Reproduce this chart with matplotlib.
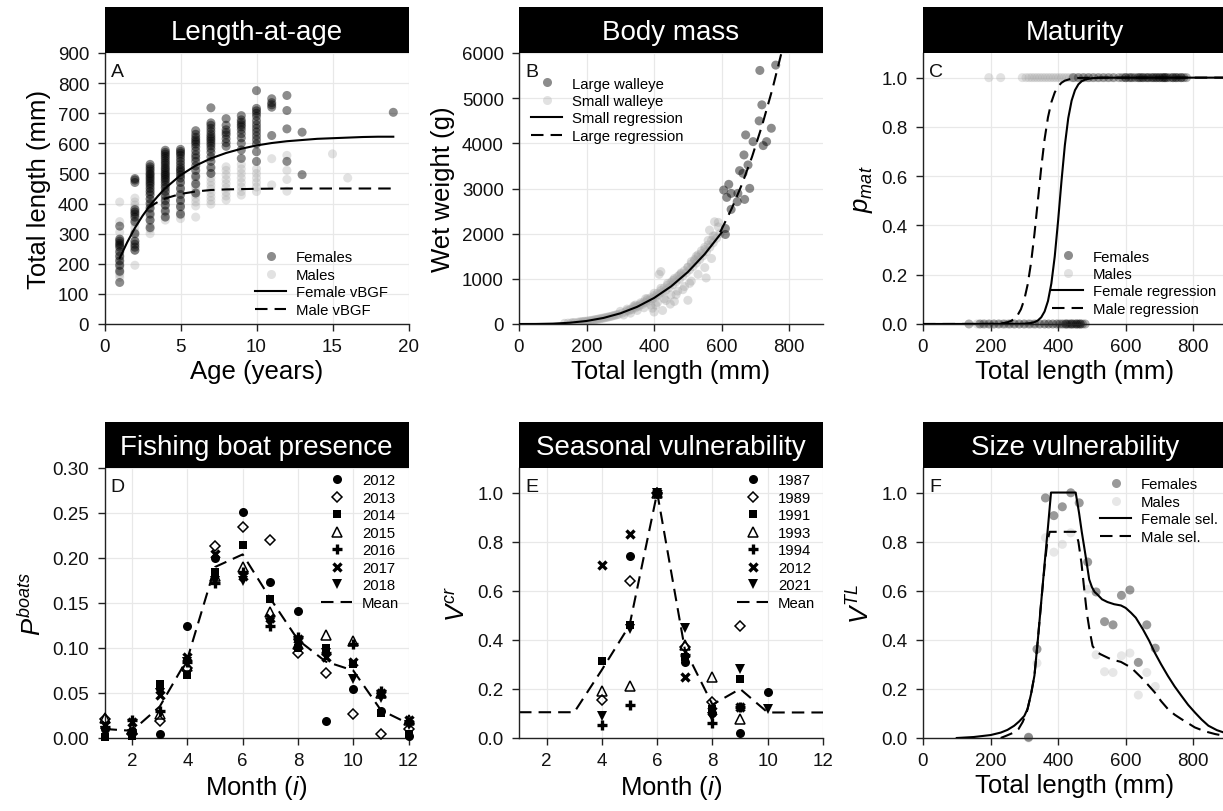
import numpy as np
import matplotlib
matplotlib.use('Agg')
import matplotlib.pyplot as plt
from matplotlib.patches import Rectangle
from matplotlib.lines import Line2D

plt.rcParams['font.family'] = ['Liberation Sans', 'DejaVu Sans']
plt.rcParams['mathtext.fontset'] = 'custom'
plt.rcParams['mathtext.it'] = 'Liberation Sans:italic'
plt.rcParams['mathtext.rm'] = 'Liberation Sans'
plt.rcParams['mathtext.sf'] = 'Liberation Sans'

# ---------------- DATA ----------------
# Panel A: length-at-age
a_fem_ages = [1, 2, 3, 4, 5, 6, 7, 8, 9, 10, 11, 12, 13, 19]
a_fem_len = [
    [138, 175, 195, 210, 225, 240, 255, 262, 268, 275, 282, 325],
    [245, 255, 265, 275, 300, 340, 355, 365, 372, 380, 470, 478, 483],
    [320, 345, 365, 385, 400, 415, 430, 440, 450, 460, 468, 475, 482, 488, 495, 500, 508, 515, 522, 530],
    [355, 375, 395, 410, 425, 440, 452, 462, 472, 480, 487, 494, 500, 507, 514, 520, 528, 535, 542, 550, 557, 564, 570, 577],
    [365, 390, 410, 430, 450, 470, 485, 495, 505, 512, 520, 530, 540, 550, 560, 567, 573, 580],
    [435, 465, 490, 510, 525, 540, 552, 562, 575, 588, 598, 605, 612, 620, 630, 642],
    [500, 520, 540, 555, 570, 582, 592, 600, 608, 615, 622, 630, 640, 650, 660, 668, 718],
    [590, 602, 615, 628, 636, 645, 660, 682],
    [550, 578, 600, 618, 632, 645, 655, 662, 670, 678, 692],
    [540, 572, 598, 612, 625, 638, 650, 662, 675, 690, 700, 708, 716, 775],
    [626, 720, 728, 735, 748],
    [540, 648, 709, 759],
    [496, 637],
    [703],
]
a_male_ages = [1, 2, 3, 4, 5, 6, 7, 8, 9, 10, 11, 12, 15, 16]
a_male_len = [
    [155, 165, 172, 180, 188, 195, 202, 210, 218, 225, 232, 240, 250, 262, 280, 305, 340, 405],
    [195, 245, 260, 275, 290, 305, 320, 335, 348, 360, 372, 385, 395, 405, 418],
    [300, 315, 330, 345, 358, 370, 382, 394, 405, 416, 428, 440, 452, 465],
    [345, 358, 370, 382, 394, 406, 418, 430, 442, 455, 468, 482, 495],
    [350, 362, 375, 388, 400, 412, 424, 436, 448, 460, 472, 485, 498, 512],
    [355, 392, 405, 418, 430, 442, 455, 468, 480, 495],
    [398, 410, 422, 435, 448, 460, 472, 485, 500, 512],
    [412, 425, 438, 452, 466, 480, 495, 510, 522],
    [428, 440, 455, 470, 485, 500, 515, 530],
    [440, 455, 470, 485, 500, 515],
    [462, 549],
    [441, 480, 510, 560],
    [565],
    [485],
]
a_fem_curve_age = [1, 1.5, 2, 2.5, 3, 3.5, 4, 5, 6, 7, 8, 9, 10, 11, 12, 13, 14, 15, 16, 17, 18, 19]
a_fem_curve_len = [219, 272, 319, 359, 394, 424, 451, 494, 526, 550, 568, 582, 593, 601, 607, 611, 615, 617, 619, 621, 622, 622]
a_male_curve_age = [2.8, 3, 3.5, 4, 5, 6, 7, 8, 10, 12, 19]
a_male_curve_len = [382, 390, 405, 417, 432, 440, 445, 447, 449, 450, 450]

# Panel B: body mass
b_large_L = [606, 611, 611, 615, 621, 628, 628, 646, 648, 653, 663, 666, 668, 671, 678, 683, 693, 711, 713, 719, 723, 733, 747, 760]
b_large_W = [2966, 2115, 1982, 2803, 3092, 2892, 2537, 2707, 2892, 3395, 3336, 3743, 2759, 4186, 3521, 3003, 4038, 4497, 5614, 4852, 3950, 4038, 4334, 5732]
b_small_L = [135, 145, 155, 165, 175, 185, 195, 205, 215, 225, 235, 245, 255, 265, 275, 285, 295, 305, 315, 325,
             335, 345, 355, 365, 375, 385, 395, 405, 415, 425, 435, 445, 455, 465, 475, 485, 495, 505, 515, 525,
             535, 545, 555, 565, 575, 585, 595,
             300, 320, 340, 360, 380, 400, 420, 440, 460, 480, 500, 510, 520, 530, 540, 550, 560, 575, 590,
             310, 330, 350, 370, 390, 410, 430, 450, 470, 490, 510, 530, 550, 570,
             415, 420, 400, 425, 448, 500, 554, 579, 564, 590, 395, 460,
             320, 330, 340, 350, 360, 370, 380, 390, 400, 410, 420, 430, 440, 450, 460, 470, 480, 490, 500, 510,
             520, 530, 540, 550, 560, 570, 580, 250, 260, 270, 280, 290, 200, 210, 220, 230, 240, 180, 190, 160,
             405, 435, 465, 485, 505, 345, 375, 455, 475, 525]
b_small_W = [15, 20, 25, 30, 40, 50, 60, 70, 80, 95, 110, 125, 140, 155, 175, 195, 215, 240, 265, 290,
             320, 355, 390, 430, 470, 510, 555, 600, 650, 700, 750, 810, 870, 930, 990, 1060, 1130, 1200, 1270, 1350,
             1430, 1510, 1600, 1700, 1800, 1900, 2000,
             280, 330, 400, 470, 560, 680, 790, 900, 1010, 1130, 1260, 1380, 1430, 1530, 1620, 1700, 1850, 1950, 2150,
             200, 240, 300, 360, 420, 480, 560, 640, 730, 830, 950, 1100, 1250, 1450,
             1100, 1160, 265, 300, 440, 525, 1020, 2263, 2078, 2250, 350, 500,
             300, 330, 370, 400, 440, 490, 530, 580, 630, 680, 740, 800, 860, 920, 980, 1050, 1110, 1180, 1250, 1330,
             1400, 1480, 1560, 1650, 1750, 1850, 1950, 130, 150, 165, 185, 205, 60, 70, 85, 100, 115, 45, 55, 30,
             420, 520, 650, 760, 900, 420, 560, 960, 1080, 1500]
b_small_curve_L = [0, 50, 100, 150, 200, 250, 300, 350, 400, 450, 500, 550, 600]
b_small_curve_W = [0, 1, 8, 28, 67, 134, 236, 381, 577, 831, 1152, 1549, 2025]
b_large_curve_L = [595, 600, 630, 660, 690, 720, 750, 780, 790]
b_large_curve_W = [2030, 2100, 2560, 3092, 3704, 4404, 5195, 6092, 6400]

# Panel C: maturity
c_fem_mature_L = [445, 460, 475, 490, 505, 520, 535, 550, 565, 580, 590, 600, 610, 620, 628, 636, 644, 652, 660,
                  668, 676, 684, 692, 700, 708, 716, 724, 732, 740, 748, 756, 764, 772, 780,
                  615, 640, 665, 690, 715, 740, 765, 700, 720, 600, 650, 680, 710, 750]
c_male_mature_L = [195, 230, 294, 305, 314, 322, 330, 338, 346, 354, 362, 370, 378, 386, 394, 402, 410, 418,
                   426, 434, 442, 450, 460, 470, 480, 490, 500, 515, 530, 545, 560]
c_fem_immature_L = [136, 168, 180, 195, 210, 225, 240, 255, 270, 285, 300, 315, 330, 345, 360, 372, 384, 396,
                    405, 414, 422, 430, 436, 442, 448, 454, 460, 466, 472, 480, 425, 440, 455, 465]
c_male_immature_L = [160, 172, 185, 198, 210, 222, 235, 248, 260, 272, 285, 298, 310, 322, 335, 348, 360, 372,
                     385, 398, 410, 422]
c_fem_curve_L = [0, 280, 300, 320, 330, 340, 350, 360, 370, 380, 390, 400, 410, 420, 430, 440, 450, 460, 470,
                 480, 500, 530, 900]
c_fem_curve_p = [0, 0.0003, 0.0011, 0.0040, 0.0076, 0.0144, 0.0272, 0.0509, 0.0932, 0.1645, 0.2739, 0.4195,
                 0.5805, 0.7261, 0.8355, 0.9068, 0.9491, 0.9728, 0.9856, 0.9924, 0.9979, 0.9997, 1.0]
c_male_curve_L = [0, 200, 220, 240, 250, 260, 270, 280, 290, 300, 310, 320, 330, 340, 350, 360, 370, 380, 390,
                  400, 410, 420, 440, 460, 500, 900]
c_male_curve_p = [0, 0.0005, 0.0014, 0.0041, 0.0070, 0.0121, 0.0208, 0.0356, 0.0601, 0.0998, 0.1611, 0.2497,
                  0.3659, 0.5, 0.6341, 0.7503, 0.8389, 0.9002, 0.9399, 0.9644, 0.9792, 0.9879, 0.9959, 0.9986,
                  0.9999, 1.0]

# Panel D: fishing boat presence
months = [1, 2, 3, 4, 5, 6, 7, 8, 9, 10, 11, 12]
d_years = ['2012', '2013', '2014', '2015', '2016', '2017', '2018']
d_2012 = [0.010, 0.008, 0.004, 0.124, 0.200, 0.251, 0.173, 0.141, 0.019, 0.054, 0.030, 0.002]
d_2013 = [0.021, 0.005, 0.019, 0.078, 0.213, 0.235, 0.220, 0.095, 0.072, 0.027, 0.005, 0.010]
d_2014 = [0.001, 0.002, 0.060, 0.070, 0.185, 0.214, 0.155, 0.100, 0.100, 0.082, 0.028, 0.005]
d_2015 = [0.022, 0.010, 0.027, 0.080, 0.180, 0.190, 0.140, 0.105, 0.115, 0.108, 0.050, 0.020]
d_2016 = [0.012, 0.020, 0.030, 0.085, 0.172, 0.185, 0.125, 0.112, 0.095, 0.105, 0.052, 0.018]
d_2017 = [0.015, 0.018, 0.048, 0.090, 0.205, 0.180, 0.133, 0.110, 0.090, 0.085, 0.050, 0.020]
d_2018 = [0.008, 0.004, 0.050, 0.085, 0.175, 0.175, 0.128, 0.105, 0.095, 0.066, 0.045, 0.015]
d_mean = [0.010, 0.008, 0.035, 0.088, 0.190, 0.204, 0.155, 0.109, 0.085, 0.075, 0.031, 0.016]

# Panel E: seasonal vulnerability
nan = np.nan
e_years = ['1987', '1989', '1991', '1993', '1994', '2012', '2021']
e_1987 = [nan, nan, nan, nan, 0.74, 1.0, 0.31, 0.10, 0.02, 0.186, nan, nan]
e_1989 = [nan, nan, nan, 0.155, 0.64, 1.0, 0.37, 0.145, 0.457, nan, nan, nan]
e_1991 = [nan, nan, nan, 0.315, 0.46, 1.0, 0.33, 0.12, 0.24, nan, nan, nan]
e_1993 = [nan, nan, nan, 0.19, 0.213, 1.0, 0.38, 0.25, 0.077, nan, nan, nan]
e_1994 = [nan, nan, nan, 0.055, 0.134, 1.0, 0.34, 0.06, 0.125, nan, nan, nan]
e_2012 = [nan, nan, nan, 0.705, 0.83, 1.0, 0.25, 0.11, 0.125, nan, nan, nan]
e_2021 = [nan, nan, nan, 0.09, 0.445, 1.0, 0.45, 0.085, 0.283, 0.118, nan, nan]
e_mean = [0.105, 0.105, 0.105, 0.278, 0.459, 1.0, 0.362, 0.136, 0.200, 0.104, 0.104, 0.104]

# Panel F: size vulnerability
f_L = [312.5, 337.5, 362.5, 387.5, 412.5, 437.5, 462.5, 487.5, 512.5, 537.5, 562.5, 587.5, 612.5, 637.5, 662.5, 687.5]
f_fem_V = [0.003, 0.362, 0.978, 0.906, 0.942, 0.999, 0.958, 0.717, 0.595, 0.474, 0.461, 0.581, 0.603, 0.308, 0.461, 0.366]
f_male_V = [0.0, 0.305, 0.816, 0.757, 0.789, 0.836, nan, 0.606, 0.339, 0.270, 0.267, 0.335, 0.346, 0.175, 0.267, 0.210]
f_fem_curve_L = [100, 150, 200, 230, 250, 270, 285, 300, 310, 320, 330, 340, 350, 360, 370, 379, 452, 462, 470,
                 477, 485, 492, 500, 508, 516, 530, 546, 566, 586, 600, 616, 630, 651, 670, 686, 705, 725, 745,
                 765, 785, 805, 825, 845, 870, 900]
f_fem_curve_V = [0.0, 0.004, 0.012, 0.022, 0.033, 0.05, 0.068, 0.09, 0.12, 0.18, 0.255, 0.40, 0.555, 0.71, 0.86,
                 1.0, 1.0, 0.917, 0.84, 0.78, 0.71, 0.646, 0.615, 0.595, 0.585, 0.565, 0.554, 0.545, 0.54, 0.53,
                 0.51, 0.49, 0.443, 0.395, 0.348, 0.30, 0.253, 0.21, 0.172, 0.135, 0.104, 0.075, 0.05, 0.032, 0.018]
f_male_curve_L = [230, 248, 265, 283, 295, 307, 320, 330, 340, 350, 360, 368, 375, 452, 460, 469, 477, 485, 493,
                  502, 514, 526, 556, 586, 616, 651, 686, 705, 725, 745, 765, 785, 805, 835, 865, 900]
f_male_curve_V = [0.0, 0.01, 0.02, 0.037, 0.065, 0.104, 0.18, 0.255, 0.40, 0.555, 0.70, 0.80, 0.84, 0.84, 0.80,
                  0.714, 0.61, 0.51, 0.44, 0.375, 0.35, 0.341, 0.321, 0.31, 0.287, 0.24, 0.186, 0.15, 0.118,
                  0.095, 0.077, 0.06, 0.043, 0.027, 0.016, 0.007]

# ---------------- STYLE ----------------
W, H = 1223, 812
fig = plt.figure(figsize=(W / 100, H / 100), dpi=100)

DASH = (0, (6, 3.4))
LW = 1.5
MS = 6.5
FEM_C, FEM_A = 'black', 0.45
MAL_C, MAL_A = '#a0a0a0', 0.3
LEG_FS = 10.7
LEG_FS_PX = LEG_FS * 100 / 72


def panel(left, top, bottom, width=304):
    return fig.add_axes([left / W, 1 - bottom / H, width / W, (bottom - top) / H])


def style(ax, top, bottom, title, letter, xlim, ylim, xticks, yticks, yfmt, xlabel, ylabel):
    hpx = bottom - top
    ax.set_xlim(xlim)
    ax.set_ylim(ylim)
    ax.set_xticks(xticks)
    ax.set_xticklabels([str(t) for t in xticks])
    ax.set_yticks(yticks)
    ax.set_yticklabels([yfmt.format(v) for v in yticks])
    ax.grid(True, color='#e8e8e8', lw=0.9)
    ax.set_axisbelow(True)
    for s in ['top', 'right']:
        ax.spines[s].set_visible(False)
    for s in ['left', 'bottom']:
        ax.spines[s].set_linewidth(1.0)
        ax.spines[s].set_color('#222222')
    ax.tick_params(direction='out', length=5, width=1.0, pad=5, labelsize=13.5,
                   color='#222222', labelcolor='#111111')
    ax.tick_params(axis='y', pad=6)
    ax.set_xlabel(xlabel, fontsize=18.5, labelpad=3)
    ax.set_ylabel(ylabel, fontsize=18.5, labelpad=5)
    ax.add_patch(Rectangle((0, 1), 1, 46 / hpx, transform=ax.transAxes, clip_on=False,
                           facecolor='black', edgecolor='none', zorder=5))
    ax.text(0.5, 1 + 14 / hpx, title, transform=ax.transAxes, ha='center', va='baseline',
            color='white', fontsize=20, zorder=6, clip_on=False)
    ax.text(6 / 304, 1 - 23 / hpx, letter, transform=ax.transAxes, ha='left', va='baseline',
            fontsize=14, color='#111111')


def legend(ax, handles, labels, left_px, top_px, hlen_px=31, pad_px=10):
    ax.legend(handles, labels, loc='upper left', bbox_to_anchor=(left_px / W, 1 - top_px / H),
              bbox_transform=fig.transFigure, frameon=False, fontsize=LEG_FS, borderpad=0,
              borderaxespad=0, handlelength=hlen_px / LEG_FS_PX, handletextpad=pad_px / LEG_FS_PX,
              labelspacing=0.235, handleheight=0.7, numpoints=1)


def dot_handle(c, a):
    return Line2D([], [], ls='none', marker='o', ms=MS, mfc=c, mec='none', alpha=a)


solid_h = Line2D([], [], color='black', lw=LW)
dash_h = Line2D([], [], color='black', lw=LW, ls=DASH)

# ---------------- A ----------------
axA = panel(104.5, 54, 325)
for age, lens in zip(a_male_ages, a_male_len):
    axA.scatter([age] * len(lens), lens, s=MS ** 2, c=MAL_C, alpha=MAL_A, edgecolors='none', zorder=2)
for age, lens in zip(a_fem_ages, a_fem_len):
    axA.scatter([age] * len(lens), lens, s=MS ** 2, c=FEM_C, alpha=FEM_A, edgecolors='none', zorder=2)
axA.plot(a_fem_curve_age, a_fem_curve_len, color='black', lw=LW, zorder=3)
axA.plot(a_male_curve_age, a_male_curve_len, color='black', lw=LW, ls=DASH, zorder=3)
style(axA, 54, 325, 'Length-at-age', 'A', (0, 20), (0, 900), [0, 5, 10, 15, 20],
      list(range(0, 901, 100)), '{:.0f}', 'Age (years)', 'Total length (mm)')
legend(axA, [dot_handle(FEM_C, FEM_A), dot_handle(MAL_C, MAL_A), solid_h, dash_h],
       ['Females', 'Males', 'Female vBGF', 'Male vBGF'], 255, 251.5)

# ---------------- B ----------------
axB = panel(519, 54, 325)
axB.scatter(b_small_L, b_small_W, s=MS ** 2, c=MAL_C, alpha=0.35, edgecolors='none', zorder=2)
axB.scatter(b_large_L, b_large_W, s=MS ** 2, c=FEM_C, alpha=FEM_A, edgecolors='none', zorder=2)
axB.plot(b_small_curve_L, b_small_curve_W, color='black', lw=LW, zorder=3)
axB.plot(b_large_curve_L, b_large_curve_W, color='black', lw=LW, ls=DASH, zorder=3)
style(axB, 54, 325, 'Body mass', 'B', (0, 900), (0, 6000), [0, 200, 400, 600, 800],
      list(range(0, 6001, 1000)), '{:.0f}', 'Total length (mm)', 'Wet weight (g)')
legend(axB, [dot_handle(FEM_C, FEM_A), dot_handle(MAL_C, MAL_A), solid_h, dash_h],
       ['Large walleye', 'Small walleye', 'Small regression', 'Large regression'], 531, 77.5)

# ---------------- C ----------------
axC = panel(923, 54, 325)
axC.scatter(c_male_mature_L, [1.0] * len(c_male_mature_L), s=MS ** 2, c=MAL_C, alpha=MAL_A,
            edgecolors='none', zorder=2)
axC.scatter(c_male_immature_L, [0.0] * len(c_male_immature_L), s=MS ** 2, c=MAL_C, alpha=MAL_A,
            edgecolors='none', zorder=2, clip_on=False)
axC.scatter(c_fem_mature_L, [1.0] * len(c_fem_mature_L), s=MS ** 2, c=FEM_C, alpha=0.3,
            edgecolors='none', zorder=2)
axC.scatter(c_fem_immature_L, [0.0] * len(c_fem_immature_L), s=MS ** 2, c=FEM_C, alpha=0.3,
            edgecolors='none', zorder=2, clip_on=False)
axC.plot(c_fem_curve_L, c_fem_curve_p, color='black', lw=LW, zorder=3)
axC.plot(c_male_curve_L, c_male_curve_p, color='black', lw=LW, ls=DASH, zorder=3)
style(axC, 54, 325, 'Maturity', 'C', (0, 900), (0, 1.1), [0, 200, 400, 600, 800],
      [0, 0.2, 0.4, 0.6, 0.8, 1.0], '{:.1f}', 'Total length (mm)', r'$p_{mat}$')
legend(axC, [dot_handle(FEM_C, FEM_A), dot_handle(MAL_C, MAL_A), solid_h, dash_h],
       ['Females', 'Males', 'Female regression', 'Male regression'], 1052, 250.5)

# ---------------- D & E markers ----------------
mk = [
    dict(marker='o', ms=6.5, mfc='black', mec='black', mew=0),
    dict(marker='D', ms=4.8, mfc='none', mec='black', mew=1.1),
    dict(marker='s', ms=5.8, mfc='black', mec='black', mew=0),
    dict(marker='^', ms=6.7, mfc='none', mec='black', mew=1.1),
    dict(marker='+', ms=7, mfc='black', mec='black', mew=2.4),
    dict(marker='x', ms=6.3, mfc='black', mec='black', mew=2.4),
    dict(marker='v', ms=6.7, mfc='black', mec='black', mew=0),
]

# ---------------- D ----------------
axD = panel(104.5, 469, 739)
d_series = [d_2012, d_2013, d_2014, d_2015, d_2016, d_2017, d_2018]
axD.plot(months, d_mean, color='black', lw=LW, ls=DASH, zorder=2)
for vals, st in zip(d_series, mk):
    axD.plot(months, vals, ls='none', clip_on=False, zorder=3, **st)
style(axD, 469, 739, 'Fishing boat presence', 'D', (1, 12), (0, 0.30), [2, 4, 6, 8, 10, 12],
      [0, 0.05, 0.10, 0.15, 0.20, 0.25, 0.30], '{:.2f}', r'Month ($i$)', r'$P^{boats}$')
legend(axD, [Line2D([], [], ls='none', **st) for st in mk] + [dash_h], d_years + ['Mean'], 321, 474.5)

# ---------------- E ----------------
axE = panel(519, 469, 739)
e_series = [e_1987, e_1989, e_1991, e_1993, e_1994, e_2012, e_2021]
axE.plot(months, e_mean, color='black', lw=LW, ls=DASH, zorder=2)
for vals, st in zip(e_series, mk):
    axE.plot(months, vals, ls='none', clip_on=False, zorder=3, **st)
style(axE, 469, 739, 'Seasonal vulnerability', 'E', (1, 12), (0, 1.1), [2, 4, 6, 8, 10, 12],
      [0, 0.2, 0.4, 0.6, 0.8, 1.0], '{:.1f}', r'Month ($i$)', r'$V^{cr}$')
legend(axE, [Line2D([], [], ls='none', **st) for st in mk] + [dash_h], e_years + ['Mean'], 737, 474.5)

# ---------------- F ----------------
axF = panel(923, 469, 739)
axF.scatter(f_L, f_male_V, s=MS ** 2, c=MAL_C, alpha=0.25, edgecolors='none', zorder=2, clip_on=False)
axF.scatter(f_L, f_fem_V, s=MS ** 2, c=FEM_C, alpha=0.4, edgecolors='none', zorder=2, clip_on=False)
axF.plot(f_fem_curve_L, f_fem_curve_V, color='black', lw=LW, zorder=3)
axF.plot(f_male_curve_L, f_male_curve_V, color='black', lw=LW, ls=DASH, zorder=3)
style(axF, 469, 739, 'Size vulnerability', 'F', (0, 900), (0, 1.1), [0, 200, 400, 600, 800],
      [0, 0.2, 0.4, 0.6, 0.8, 1.0], '{:.1f}', 'Total length (mm)', r'$V^{TL}$')
legend(axF, [dot_handle(FEM_C, 0.4), dot_handle(MAL_C, 0.25), solid_h, dash_h],
       ['Females', 'Males', 'Female sel.', 'Male sel.'], 1100, 478.5)

fig.savefig('out.png', dpi=100, facecolor='white')
